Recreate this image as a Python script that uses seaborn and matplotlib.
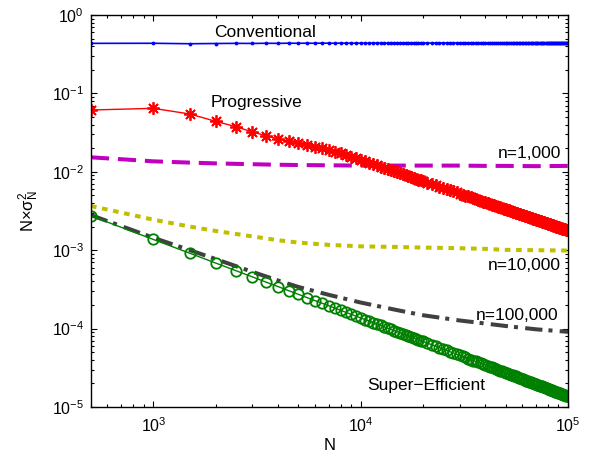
import numpy as np
import pandas as pd
import matplotlib
matplotlib.use('Agg')
import matplotlib.pyplot as plt
import matplotlib.ticker as mticker
import seaborn as sns

#Sample sizes (dense grid for the marker series)
N = list(range(500, 20001, 500)) + list(range(21000, 100001, 1000))

#Conventional estimator
conventional = [
    0.435, 0.436, 0.430, 0.433, 0.435, 0.434, 0.436, 0.435, 0.437, 0.436,
    0.437, 0.436, 0.438, 0.437, 0.436, 0.438, 0.437, 0.438, 0.437, 0.438,
    0.438, 0.437, 0.438, 0.439, 0.438, 0.437, 0.438, 0.439, 0.438, 0.439,
    0.438, 0.439, 0.440, 0.439, 0.438, 0.439, 0.440, 0.439, 0.440, 0.439,
    0.440, 0.439, 0.440, 0.441, 0.440, 0.439, 0.440, 0.441, 0.440, 0.441,
    0.440, 0.441, 0.440, 0.439, 0.440, 0.441, 0.440, 0.439, 0.440, 0.441,
    0.440, 0.439, 0.440, 0.439, 0.438, 0.439, 0.440, 0.439, 0.438, 0.439,
    0.438, 0.437, 0.438, 0.437, 0.436, 0.437, 0.436, 0.435, 0.436, 0.435,
    0.436, 0.435, 0.434, 0.435, 0.434, 0.435, 0.436, 0.435, 0.436, 0.437,
    0.438, 0.439, 0.440, 0.439, 0.440, 0.441, 0.440, 0.441, 0.440, 0.441,
    0.440, 0.441, 0.442, 0.441, 0.440, 0.441, 0.442, 0.441, 0.442, 0.441,
    0.442, 0.441, 0.442, 0.443, 0.442, 0.441, 0.442, 0.443, 0.442, 0.443]

#Progressive estimator
progressive = [
    0.0614, 0.0645, 0.0546, 0.0440, 0.0376, 0.0323, 0.0288, 0.0263, 0.0247, 0.0235,
    0.0222, 0.0210, 0.0199, 0.0189, 0.0180, 0.0172, 0.0164, 0.0156, 0.0149, 0.0142,
    0.01359, 0.01303, 0.01252, 0.01205, 0.01162, 0.01121, 0.01084, 0.01049, 0.01016, 0.00986,
    0.00957, 0.00930, 0.00905, 0.00881, 0.00858, 0.00837, 0.00816, 0.00797, 0.00778, 0.00761,
    0.00728, 0.00698, 0.00671, 0.00646, 0.00623, 0.00601, 0.00581, 0.00562, 0.00545, 0.00528,
    0.00513, 0.00498, 0.00485, 0.00472, 0.00460, 0.00448, 0.00437, 0.00427, 0.00417, 0.00408,
    0.00399, 0.00390, 0.00382, 0.00374, 0.00367, 0.00360, 0.00353, 0.00346, 0.00340, 0.00334,
    0.00328, 0.00322, 0.00317, 0.00311, 0.00306, 0.00301, 0.00296, 0.00292, 0.00287, 0.00283,
    0.00279, 0.00275, 0.00271, 0.00267, 0.00263, 0.00260, 0.00256, 0.00253, 0.00250, 0.00246,
    0.00243, 0.00240, 0.00237, 0.00234, 0.00232, 0.00229, 0.00226, 0.00224, 0.00221, 0.00219,
    0.00216, 0.00214, 0.00211, 0.00209, 0.00207, 0.00205, 0.00203, 0.00200, 0.00199, 0.00197,
    0.00195, 0.00193, 0.00191, 0.00189, 0.00187, 0.00185, 0.00184, 0.00182, 0.00180, 0.00179]

#Super-efficient estimator
super_eff = [
    2.74e-3, 1.37e-3, 9.13e-4, 6.85e-4, 5.48e-4, 4.57e-4, 3.91e-4, 3.43e-4, 3.04e-4, 2.74e-4,
    2.49e-4, 2.28e-4, 2.11e-4, 1.96e-4, 1.83e-4, 1.71e-4, 1.61e-4, 1.52e-4, 1.44e-4, 1.37e-4,
    1.30e-4, 1.25e-4, 1.19e-4, 1.14e-4, 1.10e-4, 1.05e-4, 1.01e-4, 9.79e-5, 9.45e-5, 9.13e-5,
    8.84e-5, 8.56e-5, 8.30e-5, 8.06e-5, 7.83e-5, 7.61e-5, 7.41e-5, 7.21e-5, 7.03e-5, 6.85e-5,
    6.52e-5, 6.23e-5, 5.96e-5, 5.71e-5, 5.48e-5, 5.27e-5, 5.07e-5, 4.89e-5, 4.72e-5, 4.57e-5,
    4.42e-5, 4.28e-5, 4.15e-5, 4.03e-5, 3.91e-5, 3.81e-5, 3.70e-5, 3.61e-5, 3.51e-5, 3.43e-5,
    3.34e-5, 3.26e-5, 3.19e-5, 3.11e-5, 3.04e-5, 2.98e-5, 2.91e-5, 2.85e-5, 2.80e-5, 2.74e-5,
    2.69e-5, 2.63e-5, 2.58e-5, 2.54e-5, 2.49e-5, 2.45e-5, 2.40e-5, 2.36e-5, 2.32e-5, 2.28e-5,
    2.25e-5, 2.21e-5, 2.17e-5, 2.14e-5, 2.11e-5, 2.08e-5, 2.04e-5, 2.01e-5, 1.99e-5, 1.96e-5,
    1.93e-5, 1.90e-5, 1.88e-5, 1.85e-5, 1.83e-5, 1.80e-5, 1.78e-5, 1.76e-5, 1.73e-5, 1.71e-5,
    1.69e-5, 1.67e-5, 1.65e-5, 1.63e-5, 1.61e-5, 1.59e-5, 1.57e-5, 1.56e-5, 1.54e-5, 1.52e-5,
    1.51e-5, 1.49e-5, 1.47e-5, 1.46e-5, 1.44e-5, 1.43e-5, 1.41e-5, 1.40e-5, 1.38e-5, 1.37e-5]

#Coarse grid for the plain line series
N_coarse = [500, 750, 1000, 1500, 2000, 3000, 4000, 5000, 7000, 10000,
            15000, 20000, 30000, 40000, 50000, 70000, 100000]
n_1000 = [0.0153, 0.0143, 0.0136, 0.0131, 0.0128, 0.0125, 0.0123, 0.0122, 0.0121, 0.0120,
          0.0120, 0.0120, 0.0120, 0.0119, 0.0119, 0.0118, 0.0119]
n_10000 = [0.00366, 0.00290, 0.00245, 0.00200, 0.00176, 0.00150, 0.00134, 0.00125, 0.00117, 0.00112,
           0.00110, 0.00108, 0.00106, 0.00104, 0.00101, 0.00100, 0.00099]
n_100000 = [0.00280, 0.00190, 0.00144, 0.00100, 0.00077, 0.00053, 0.00041, 0.00034, 0.00027, 0.000215,
            0.000172, 0.000148, 0.000127, 0.000116, 0.000108, 0.000098, 0.000091]

dense = pd.DataFrame({'N': N, 'Conventional': conventional,
                      'Progressive': progressive, 'Super': super_eff})
coarse = pd.DataFrame({'N': N_coarse, 'n1': n_1000, 'n2': n_10000, 'n3': n_100000})

sns.set_style('ticks')
plt.rcParams['font.family'] = ['Liberation Sans', 'DejaVu Sans']
plt.rcParams['mathtext.fontset'] = 'custom'
plt.rcParams['mathtext.rm'] = 'Liberation Sans'
plt.rcParams['mathtext.it'] = 'Liberation Sans:italic'
plt.rcParams['mathtext.default'] = 'regular'

fig = plt.figure(figsize=(5.89, 4.59), dpi=100)
ax = fig.add_axes([0.1545, 0.1133, 0.8098, 0.854])

#Plain lines
sns.lineplot(data=coarse, x='N', y='n1', ax=ax, color='#bf00bf', linewidth=2.9,
             linestyle=(0, (4.5, 2.2)))
sns.lineplot(data=coarse, x='N', y='n2', ax=ax, color='#bfbf00', linewidth=2.9,
             linestyle=(0, (1.4, 1.4)))
sns.lineplot(data=coarse, x='N', y='n3', ax=ax, color='#404040', linewidth=2.9,
             linestyle=(0, (4.3, 1.5, 1.0, 1.8)))

#Marker lines
sns.lineplot(data=dense, x='N', y='Conventional', ax=ax, color='#0000ff', linewidth=1.2,
             marker='.', markersize=5.5, markeredgewidth=0)
sns.lineplot(data=dense, x='N', y='Progressive', ax=ax, color='#ff0000', linewidth=1.0,
             marker=(8, 2, 0), markersize=9, markeredgecolor='#ff0000', markeredgewidth=1.3)
sns.lineplot(data=dense, x='N', y='Super', ax=ax, color='#008000', linewidth=1.0,
             marker='o', markersize=7.5, markerfacecolor='none', markeredgecolor='#008000',
             markeredgewidth=1.3)

ax.set_xscale('log')
ax.set_yscale('log')
ax.set_xlim(500, 1e5)
ax.set_ylim(1e-5, 1)
ax.xaxis.set_major_locator(mticker.LogLocator(base=10, numticks=100))
ax.xaxis.set_minor_locator(mticker.LogLocator(base=10, subs=np.arange(2, 10), numticks=100))
ax.yaxis.set_major_locator(mticker.LogLocator(base=10, numticks=100))
ax.yaxis.set_minor_locator(mticker.LogLocator(base=10, subs=np.arange(2, 10), numticks=100))
ax.xaxis.set_minor_formatter(mticker.NullFormatter())
ax.yaxis.set_minor_formatter(mticker.NullFormatter())

ax.tick_params(which='both', direction='in', top=True, right=True, labelsize=11.5,
               width=0.8, color='black', labelcolor='black')
ax.tick_params(which='major', length=4.5)
ax.tick_params(which='minor', length=2.5)
ax.tick_params(axis='x', which='major', pad=7)
ax.tick_params(axis='y', which='major', pad=5)
for s in ax.spines.values():
    s.set_linewidth(1.0)
    s.set_color('black')

ax.set_xlabel('N', fontsize=12, color='black')
ax.set_ylabel(r'N$\times\sigma^{2}_{N}$', fontsize=12, color='black')
ax.xaxis.set_label_coords(0.5, -0.08)
ax.yaxis.set_label_coords(-0.105, 0.5)

#Series labels
tkw = dict(transform=ax.transAxes, fontsize=12.5, va='baseline', color='black')
ax.text(0.365, 0.944, 'Conventional', ha='center', **tkw)
ax.text(0.348, 0.765, 'Progressive', ha='center', **tkw)
ax.text(0.985, 0.635, 'n=1,000', ha='right', **tkw)
ax.text(0.985, 0.349, 'n=10,000', ha='right', **tkw)
ax.text(0.979, 0.222, 'n=100,000', ha='right', **tkw)
ax.text(0.703, 0.043, 'Super\u2212Efficient', ha='center', **tkw)

fig.savefig('out.png', dpi=100)
